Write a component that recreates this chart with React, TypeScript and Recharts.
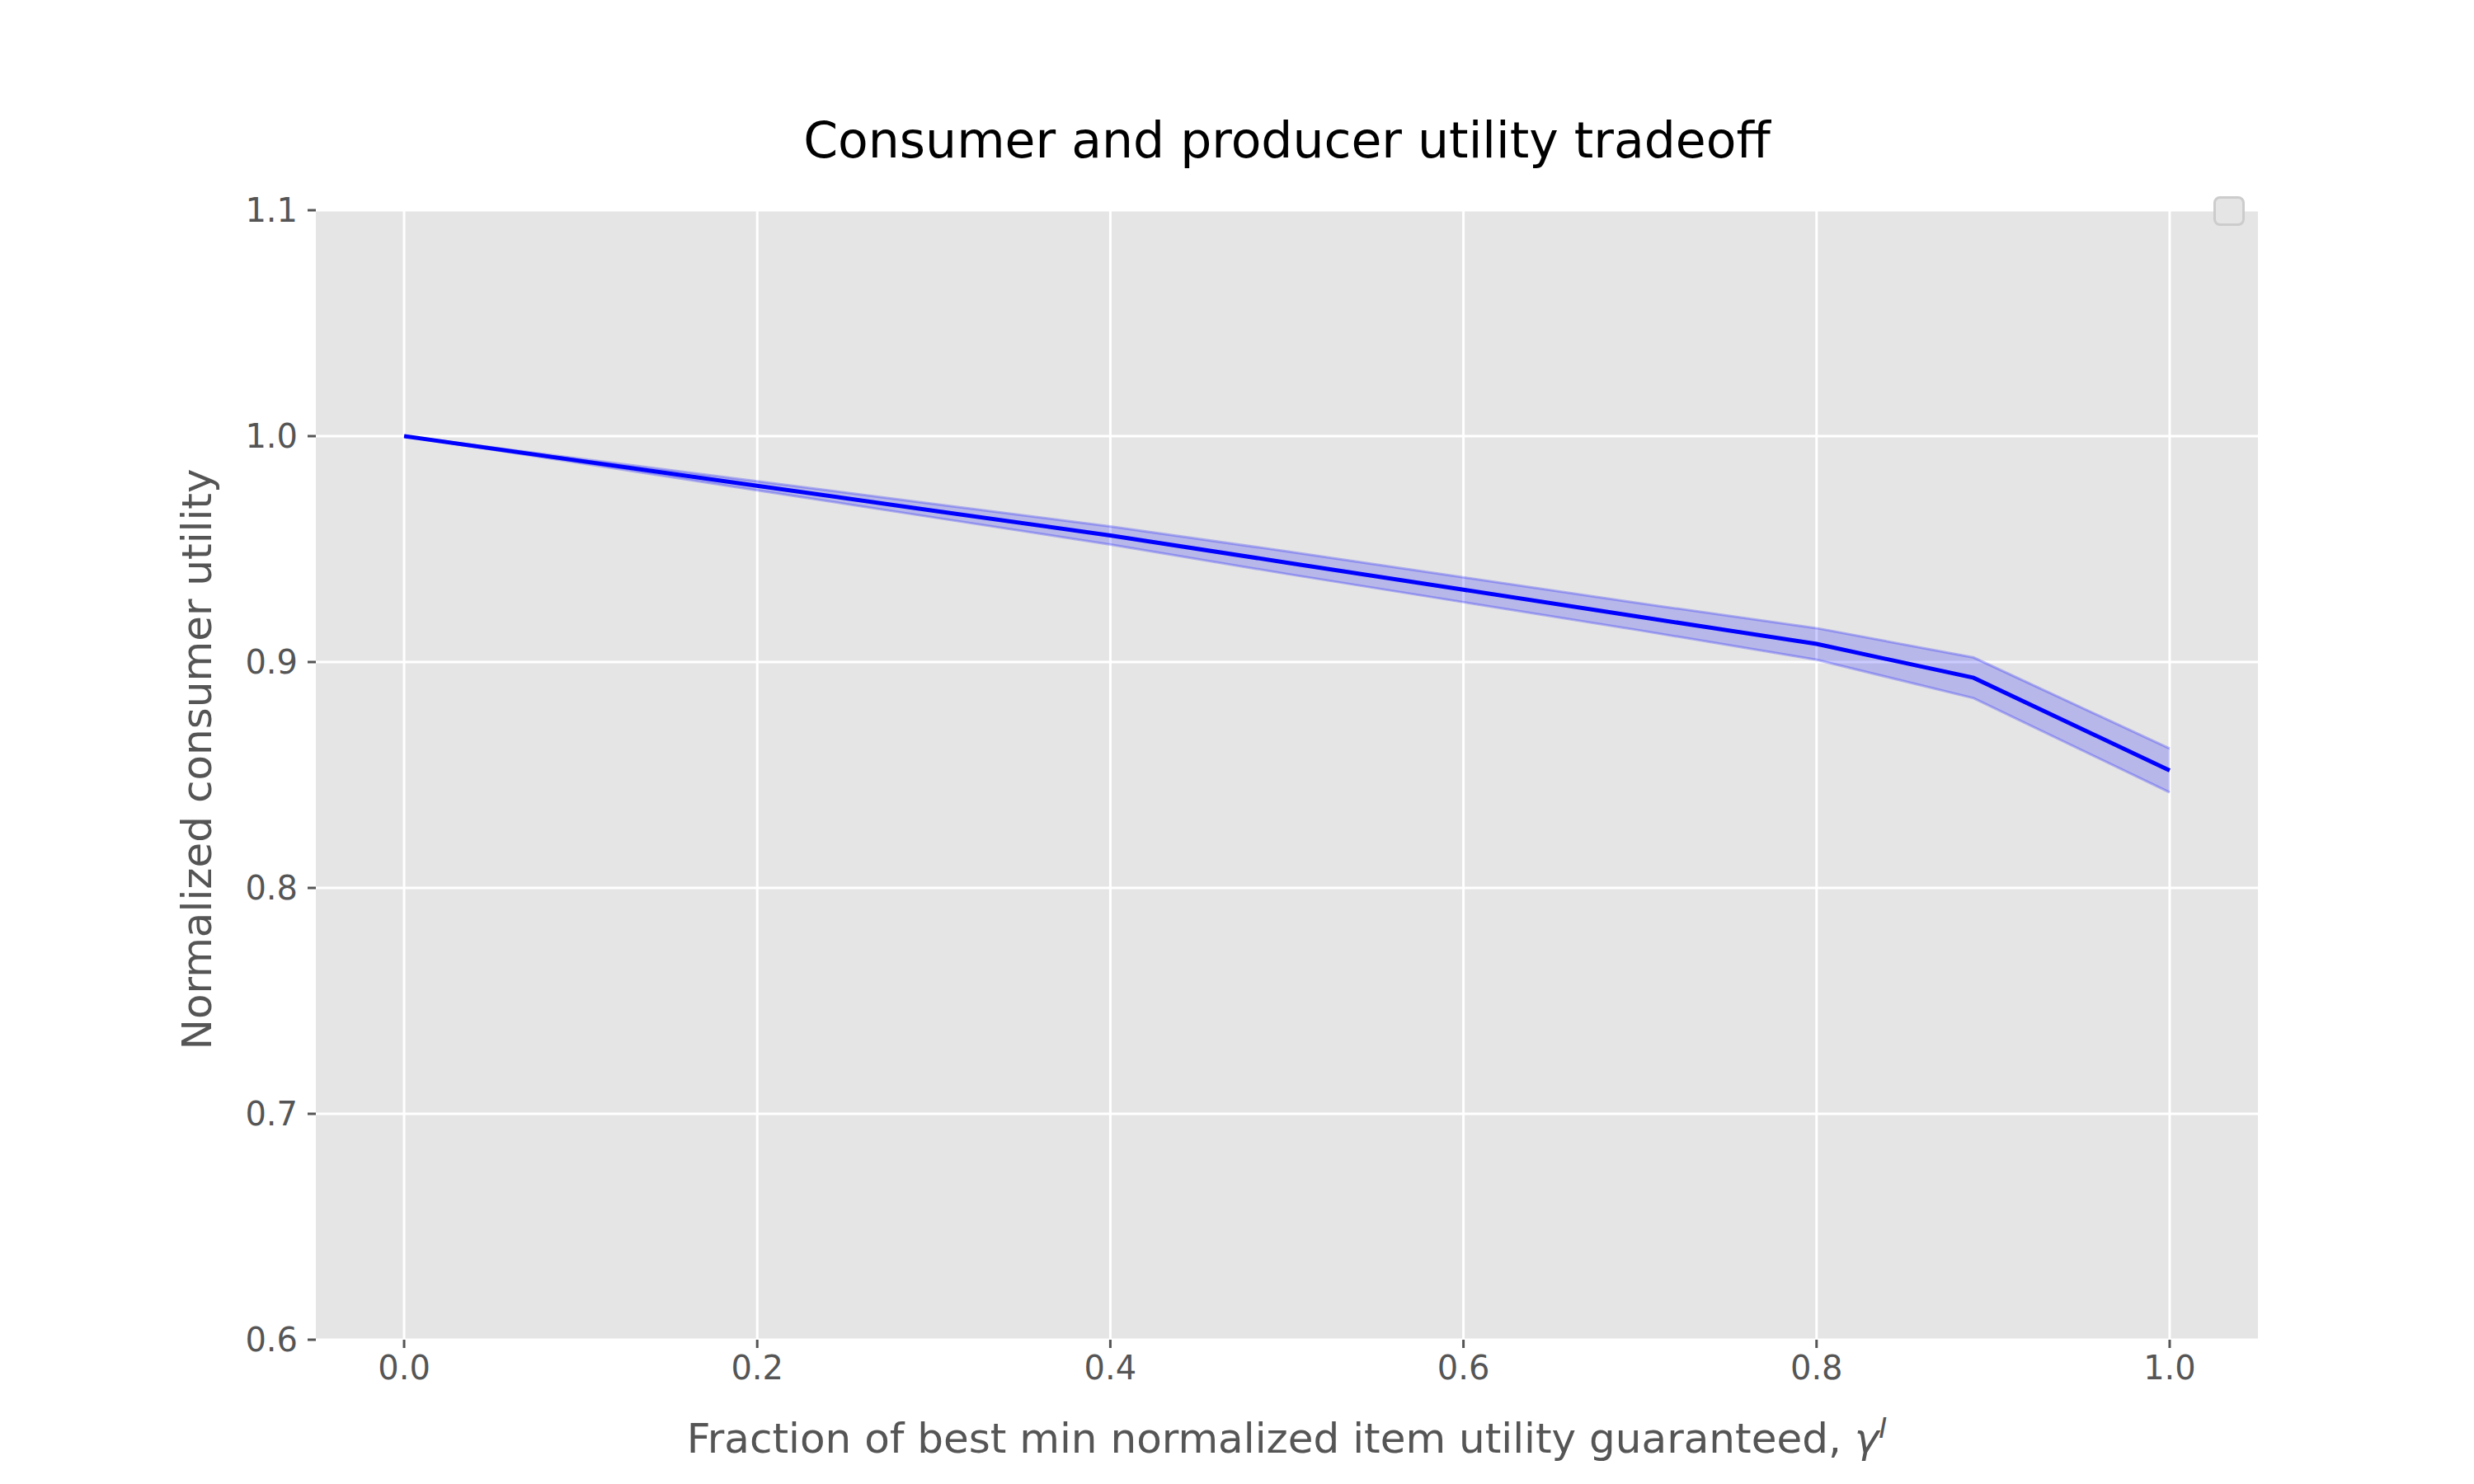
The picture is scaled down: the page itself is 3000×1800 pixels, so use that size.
import { ComposedChart, Line, Area, XAxis, YAxis, CartesianGrid, Legend } from 'recharts';

// gamma values (fraction of best min item utility guaranteed)
const gammas = [0, 0.1, 0.2, 0.3, 0.4, 0.5, 0.6, 0.7, 0.8, 0.889, 1.0];
const meanUtility = [1.0, 0.989, 0.978, 0.967, 0.956, 0.944, 0.932, 0.92, 0.908, 0.893, 0.852];
const bandHalf = [0, 0.001, 0.002, 0.003, 0.004, 0.005, 0.0055, 0.006, 0.007, 0.009, 0.0097];
const xTicks = [0, 0.2, 0.4, 0.6, 0.8, 1.0];
const yTicks = [0.6, 0.7, 0.8, 0.9, 1.0, 1.1];

const data = gammas.map((x, i) => ({
  x,
  mean: meanUtility[i],
  band: [meanUtility[i] - bandHalf[i], meanUtility[i] + bandHalf[i]],
}));

const font = 'DejaVu Sans, sans-serif';
const tickStyle = { fontSize: 40, fill: '#555555', fontFamily: font };

export default function App() {
  return (
    <div style={{ position: 'relative', width: 3000, height: 1800, margin: -8, background: '#fff' }}>
      <div
        style={{
          position: 'absolute', left: 383, width: 2355, top: 135, textAlign: 'center',
          fontFamily: font, fontSize: 60, color: '#000', zIndex: 1,
        }}
      >
        Consumer and producer utility tradeoff
      </div>
      <div
        style={{
          position: 'absolute', left: 383, width: 2355, top: 1712, textAlign: 'center',
          fontFamily: font, fontSize: 50, color: '#555555', zIndex: 1,
        }}
      >
        Fraction of best min normalized item utility guaranteed, <i>γ</i>
        <sup style={{ fontSize: 34 }}><i>I</i></sup>
      </div>
      <div
        style={{
          position: 'absolute', left: 239 - 600, width: 1200, top: 922 - 30, textAlign: 'center',
          fontFamily: font, fontSize: 50, color: '#555555', transform: 'rotate(-90deg)', zIndex: 1,
        }}
      >
        Normalized consumer utility
      </div>
      <ComposedChart
        width={3000}
        height={1800}
        data={data}
        margin={{ top: 219, right: 262, bottom: 95, left: 243 }}
      >
        <CartesianGrid fill="#E5E5E5" stroke="#FFFFFF" strokeWidth={3} horizontalValues={yTicks} verticalValues={xTicks} />
        <XAxis
          dataKey="x"
          type="number"
          domain={[-0.05, 1.05]}
          ticks={xTicks}
          tickFormatter={(v: number) => v.toFixed(1)}
          tick={tickStyle}
          axisLine={false}
          tickLine={{ stroke: '#555555', strokeWidth: 3 }}
          tickSize={10}
          tickMargin={10}
          height={80}
          allowDataOverflow
        />
        <YAxis
          type="number"
          domain={[0.6, 1.1]}
          ticks={yTicks}
          tickFormatter={(v: number) => v.toFixed(1)}
          tick={tickStyle}
          axisLine={false}
          tickLine={{ stroke: '#555555', strokeWidth: 3 }}
          tickSize={10}
          tickMargin={12}
          width={140}
          allowDataOverflow
        />
        <Legend
          verticalAlign="top"
          align="right"
          wrapperStyle={{ top: 238, right: 278, width: 'auto' }}
          content={() => (
            <div style={{ width: 32, height: 30, border: '3px solid #cccccc', borderRadius: 8, background: '#e5e5e5' }} />
          )}
        />
        <Area
          dataKey="band"
          type="linear"
          stroke="#0000ff"
          strokeOpacity={0.25}
          strokeWidth={3}
          fill="#0000ff"
          fillOpacity={0.2}
          isAnimationActive={false}
          legendType="none"
        />
        <Line
          dataKey="mean"
          type="linear"
          stroke="#0000ff"
          strokeWidth={5}
          dot={false}
          isAnimationActive={false}
          legendType="none"
        />
      </ComposedChart>
    </div>
  );
}
